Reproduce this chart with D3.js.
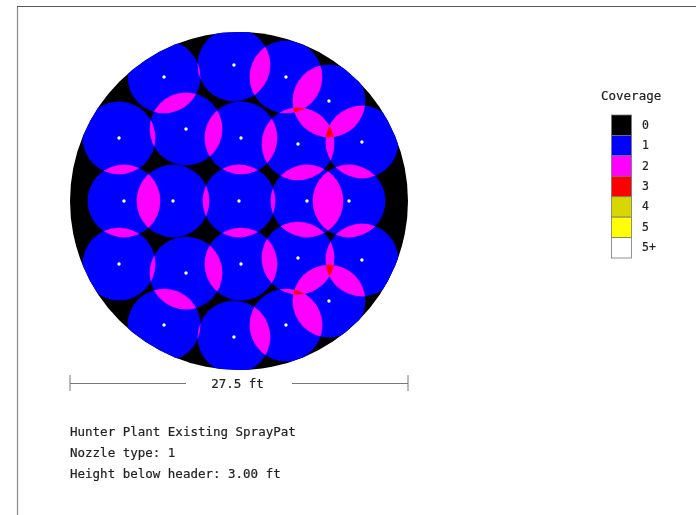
<!DOCTYPE html>
<html>
<head>
<meta charset="utf-8">
<script src="https://d3js.org/d3.v7.min.js"></script>
<style>
  html, body { margin: 0; padding: 0; background: #fff; overflow: hidden; }
  svg { filter: blur(0.35px); }
  text { font-family: "DejaVu Sans Mono", monospace; font-size: 12.5px; fill: #222; stroke: #222; stroke-width: 0.2px; }
</style>
</head>
<body>
<svg id="chart" width="696" height="515"></svg>
<script>
// nozzle positions in feet from the header centre
const NOZZLE_X = [
  -6.10, -0.41, 3.82, 7.32,
  -9.76, -4.31, 0.16, 4.80, 10.00,
  -9.36, -5.37, 0.00, 5.53, 8.95,
  -9.76, -4.31, 0.16, 4.80, 10.00,
  -6.10, -0.41, 3.82, 7.32,
];
const NOZZLE_Y = [
  10.09, 11.07, 10.09, 8.14,
  5.13, 5.86, 5.13, 4.64, 4.80,
  0, 0, 0, 0, 0,
  -5.13, -5.86, -5.13, -4.64, -4.80,
  -10.09, -11.07, -10.09, -8.14,
];
const SPRAY_RADIUS = 2.96;
const DIAMETER = 27.5;

const COVERAGE_LABELS = ["0", "1", "2", "3", "4", "5", "5+"];
const COVERAGE_COLORS = ["#000000", "#0000ff", "#ff00ff", "#ff0000", "#d8d800", "#ffff00", "#ffffff"];
const INFO_LINES = ["Hunter Plant Existing SprayPat", "Nozzle type: 1", "Height below header: 3.00 ft"];

const svg = d3.select("#chart");
const defs = svg.append("defs");

const x = d3.scaleLinear().domain([-DIAMETER / 2, DIAMETER / 2]).range([70, 408]);
const y = d3.scaleLinear().domain([-DIAMETER / 2, DIAMETER / 2]).range([370, 32]);
const r = d => x(d) - x(0);

const color = d3.scaleOrdinal(COVERAGE_LABELS, COVERAGE_COLORS);
const nozzles = NOZZLE_X.map((v, i) => ({ id: i, x: v, y: NOZZLE_Y[i] }));

// frame
svg.append("line").attr("x1", 17.5).attr("x2", 17.5).attr("y1", 6).attr("y2", 515)
  .attr("stroke", "#8a8a8a").attr("stroke-width", 1.2);
svg.append("line").attr("x1", 17).attr("x2", 696).attr("y1", 6.5).attr("y2", 6.5)
  .attr("stroke", "#555").attr("stroke-width", 1.2);

// one clip per spray circle, plus the header circle
defs.append("clipPath").attr("id", "tank")
  .append("circle").attr("cx", x(0)).attr("cy", y(0)).attr("r", r(DIAMETER / 2));
defs.selectAll("clipPath.spray")
  .data(nozzles)
  .join("clipPath")
    .attr("class", "spray")
    .attr("id", d => `spray-${d.id}`)
  .append("circle")
    .attr("cx", d => x(d.x)).attr("cy", d => y(d.y)).attr("r", r(SPRAY_RADIUS));

svg.append("circle")
  .attr("cx", x(0)).attr("cy", y(0)).attr("r", r(DIAMETER / 2))
  .attr("fill", color("0"));

const plot = svg.append("g").attr("clip-path", "url(#tank)");

plot.append("g").selectAll("circle")
  .data(nozzles)
  .join("circle")
    .attr("cx", d => x(d.x)).attr("cy", d => y(d.y)).attr("r", r(SPRAY_RADIUS))
    .attr("fill", color("1"));

// overlaps: draw circle a clipped to circle b, then again to circle c
const touches = (a, b) => Math.hypot(a.x - b.x, a.y - b.y) < 2 * SPRAY_RADIUS;
const pairs = d3.merge(nozzles.map(a => nozzles.filter(b => b.id > a.id && touches(a, b)).map(b => [a, b])));
const triples = d3.merge(pairs.map(([a, b]) =>
  nozzles.filter(c => c.id > b.id && touches(a, c) && touches(b, c)).map(c => [a, b, c])));

plot.append("g").selectAll("g")
  .data(pairs)
  .join("g")
    .attr("clip-path", d => `url(#spray-${d[1].id})`)
  .append("circle")
    .attr("cx", d => x(d[0].x)).attr("cy", d => y(d[0].y)).attr("r", r(SPRAY_RADIUS))
    .attr("fill", color("2"));

plot.append("g").selectAll("g")
  .data(triples)
  .join("g")
    .attr("clip-path", d => `url(#spray-${d[2].id})`)
  .append("g")
    .attr("clip-path", d => `url(#spray-${d[1].id})`)
  .append("circle")
    .attr("cx", d => x(d[0].x)).attr("cy", d => y(d[0].y)).attr("r", r(SPRAY_RADIUS))
    .attr("fill", color("3"));

// nozzle dots
plot.append("g").selectAll("circle")
  .data(nozzles)
  .join("circle")
    .attr("cx", d => x(d.x)).attr("cy", d => y(d.y)).attr("r", 1.7)
    .attr("fill", "#fff");

// diameter bar
const bar = svg.append("g").attr("stroke", "#777").attr("stroke-width", 1);
bar.append("line").attr("x1", x(-DIAMETER / 2)).attr("x2", 186).attr("y1", 383.5).attr("y2", 383.5);
bar.append("line").attr("x1", 292).attr("x2", x(DIAMETER / 2)).attr("y1", 383.5).attr("y2", 383.5);
bar.selectAll("line.tick")
  .data([-DIAMETER / 2, DIAMETER / 2])
  .join("line")
    .attr("class", "tick")
    .attr("x1", d => x(d)).attr("x2", d => x(d))
    .attr("y1", 375).attr("y2", 391);
svg.append("text").attr("x", x(0) - 1.5).attr("y", 388).attr("text-anchor", "middle")
  .text(`${DIAMETER} ft`);

// legend
const legendY = d3.scaleBand().domain(COVERAGE_LABELS).range([115, 258]);
const legend = svg.append("g");
legend.append("text").attr("x", 601).attr("y", 100).text("Coverage");
legend.selectAll("rect")
  .data(COVERAGE_LABELS)
  .join("rect")
    .attr("x", 611.5).attr("y", d => legendY(d))
    .attr("width", 20).attr("height", legendY.bandwidth())
    .attr("fill", d => color(d))
    .attr("stroke", "#777").attr("stroke-width", 0.8);
legend.selectAll("text.lab")
  .data(COVERAGE_LABELS)
  .join("text")
    .attr("class", "lab")
    .attr("x", 642).attr("y", d => legendY(d) + legendY.bandwidth() / 2 + 3.5)
    .style("font-size", "11.5px")
    .text(d => d);

// info block
svg.selectAll("text.info")
  .data(INFO_LINES)
  .join("text")
    .attr("class", "info")
    .attr("x", 70).attr("y", (d, i) => 436 + i * 21)
    .text(d => d);
</script>
</body>
</html>
